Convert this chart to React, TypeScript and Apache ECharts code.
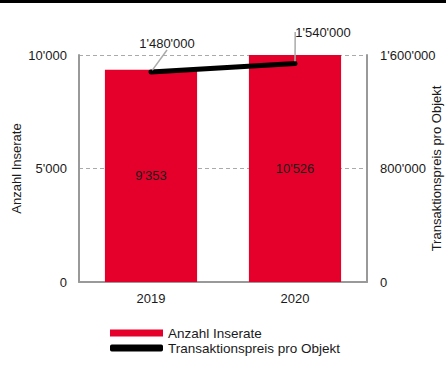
import React, { useEffect, useRef } from "react";
import * as echarts from "echarts";

const categories = ["2019", "2020"];
const inserate = [9353, 10526];
const preis = [1480000, 1540000];
const leftTicks = [0, 5000, 10000];
const rightTicks = [0, 800000, 1600000];

const fmt = (v: number) => String(Math.round(v)).replace(/\B(?=(\d{3})+(?!\d))/g, "'");

export default function App() {
  const ref = useRef<HTMLDivElement>(null);
  useEffect(() => {
    document.body.style.margin = "0";
    const chart = echarts.init(ref.current!, null, { renderer: "svg" });
    const font = "Liberation Sans, Arial, sans-serif";
    const txt = "#1a1a1a";
    const axisGrey = "#999999";
    chart.setOption({
      animation: false,
      textStyle: { fontFamily: font },
      graphic: [
        { type: "rect", shape: { x: 0, y: 0, width: 446, height: 3 }, style: { fill: "#000" } },
      ],
      grid: { left: 79, right: 79, top: 55, bottom: 91, outerBoundsMode: "none", containLabel: false },
      legend: {
        orient: "vertical",
        left: 105,
        top: 321,
        itemWidth: 53,
        itemHeight: 7,
        itemGap: 1,
        textStyle: { fontSize: 13.5, color: txt, fontFamily: font },
        data: [
          { name: "Anzahl Inserate", icon: "rect" },
          { name: "Transaktionspreis pro Objekt", icon: "roundRect", itemStyle: { color: "#000" } },
        ],
      },
      xAxis: {
        type: "category",
        data: categories,
        axisLine: { lineStyle: { color: axisGrey, width: 2 } },
        axisTick: { show: false },
        axisLabel: { color: txt, fontSize: 13, margin: 10, fontFamily: font },
      },
      yAxis: [
        {
          type: "value",
          min: leftTicks[0],
          max: leftTicks[2],
          interval: leftTicks[1],
          name: "Anzahl Inserate",
          nameLocation: "middle",
          nameGap: 56,
          nameMoveOverlap: false,
          nameTextStyle: { color: txt, fontSize: 13, fontFamily: font },
          axisLine: { show: true, lineStyle: { color: axisGrey, width: 2 } },
          axisTick: { show: false },
          axisLabel: { color: txt, fontSize: 13, margin: 12, formatter: fmt, fontFamily: font },
          splitLine: { show: true, lineStyle: { color: "#aaaaaa", type: [4, 3], width: 1 } },
        },
        {
          type: "value",
          min: rightTicks[0],
          max: rightTicks[2],
          interval: rightTicks[1],
          name: "Transaktionspreis pro Objekt",
          nameLocation: "middle",
          nameGap: 63,
          nameRotate: 90,
          nameMoveOverlap: false,
          nameTextStyle: { color: txt, fontSize: 13, fontFamily: font },
          axisLine: { show: true, lineStyle: { color: axisGrey, width: 2 } },
          axisTick: { show: false },
          axisLabel: { color: txt, fontSize: 13, margin: 13, formatter: fmt, fontFamily: font },
          splitLine: { show: false },
        },
      ],
      series: [
        {
          name: "Anzahl Inserate",
          type: "bar",
          data: inserate,
          barWidth: "64%",
          itemStyle: { color: "#e5002b" },
          label: {
            show: true,
            position: "inside",
            color: txt,
            fontSize: 13,
            fontFamily: font,
            formatter: (p: any) => fmt(p.value),
          },
        },
        {
          name: "Transaktionspreis pro Objekt",
          type: "line",
          yAxisIndex: 1,
          data: preis,
          symbol: "circle",
          symbolSize: 4,
          showSymbol: true,
          lineStyle: { color: "#000", width: 5, cap: "round" },
          itemStyle: { color: "#000" },
          z: 5,
          label: {
            show: true,
            position: "top",
            color: txt,
            fontSize: 13,
            fontFamily: font,
            formatter: (p: any) => fmt(p.value),
          },
          labelLine: { show: true, lineStyle: { color: "#aaaaaa", width: 1.5 } },
          labelLayout: (p: any) =>
            p.dataIndex === 0 ? { dx: 16, dy: -15 } : { dx: 28, dy: -18 },
        },
      ],
    });
    return () => chart.dispose();
  }, []);
  return <div ref={ref} style={{ width: 446, height: 373 }} />;
}
